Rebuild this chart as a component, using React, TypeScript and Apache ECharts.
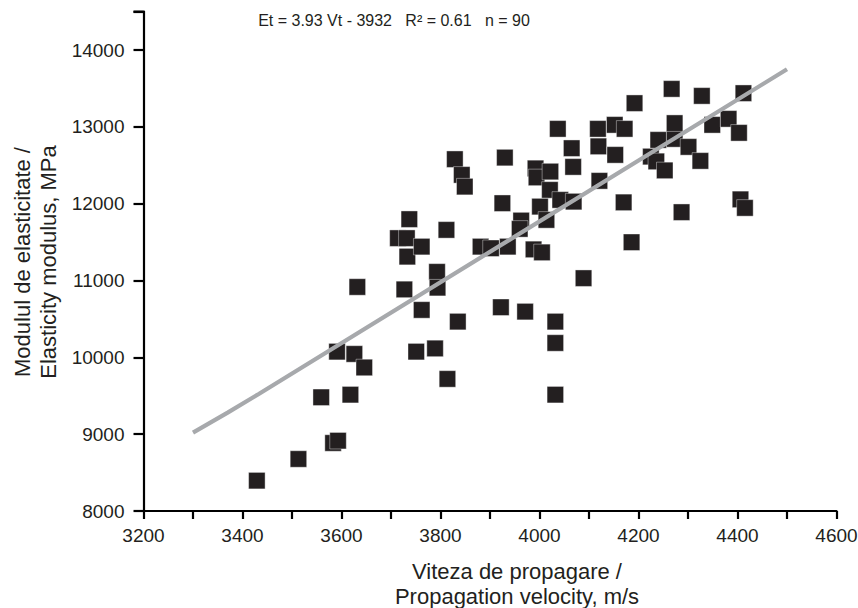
import React, { useEffect, useRef } from "react";
import * as echarts from "echarts";

const xTicks = [3200, 3400, 3600, 3800, 4000, 4200, 4400, 4600];
const yTicks = [8000, 9000, 10000, 11000, 12000, 13000, 14000];
const yAxisTop = 14500;

const velocity = [
  3429, 3513, 3583, 3593, 3559, 3618, 3591, 3626, 3646, 3632,
  3727, 3733, 3714, 3732, 3737, 3751, 3789, 3814, 3762, 3762,
  3793, 3794, 3812, 3829, 3843, 3849, 3835, 3881, 3902, 3936,
  3922, 3971, 4032, 4032, 4032, 3930, 3925, 3963, 3960, 3988,
  4005, 3992, 3994, 4022, 4021, 4001, 4014, 4042, 4069, 4037,
  4065, 4068, 4089, 4118, 4119, 4152, 4172, 4153, 4121, 4170,
  4186, 4192, 4225, 4236, 4240, 4273, 4273, 4267, 4328, 4301,
  4325, 4253, 4287, 4349, 4382, 4403, 4412, 4406, 4415,
];
const modulus = [
  8395, 8677, 8885, 8915, 9480, 9514, 10074, 10044, 9868, 10916,
  10884, 11311, 11551, 11551, 11798, 10074, 10116, 9719, 10617, 11441,
  11112, 10907, 11659, 12579, 12375, 12222, 10465, 11441, 11420, 11441,
  10652, 10595, 10465, 10187, 9514, 12600, 12006, 11780, 11672, 11405,
  11366, 12459, 12342, 12418, 12179, 11962, 11789, 12049, 12027, 12974,
  12722, 12479, 11030, 12974, 12746, 13026, 12974, 12635, 12297, 12017,
  11498, 13308, 12613, 12550, 12830, 12843, 13048, 13494, 13403, 12739,
  12557, 12433, 11889, 13026, 13104, 12922, 13438, 12056, 11945,
];

const fitX = [3300, 3370, 3432, 4500];
const fitY = [9020, 9280, 9520, 13750];

const equationText = "Et = 3.93 Vt - 3932   R² = 0.61   n = 90";
const xTitle = ["Viteza de propagare /", "Propagation velocity, m/s"];
const yTitle = ["Modulul de elasticitate /", "Elasticity modulus, MPa"];

const FONT = "'Liberation Sans', Arial, sans-serif";

export default function App() {
  const ref = useRef<HTMLDivElement>(null);
  useEffect(() => {
    if (!ref.current) return;
    const chart = echarts.init(ref.current, null, { renderer: "svg" });
    const scatterData = velocity.map((v, i) => [v, modulus[i]]);
    const lineData = fitX.map((v, i) => [v, fitY[i]]);
    const baseGraphics: any[] = [
      {
        type: "text",
        x: 394,
        y: 20,
        style: {
          text: equationText,
          fontSize: 16,
          fontFamily: FONT,
          fill: "#231f20",
          textAlign: "center",
          textVerticalAlign: "middle",
        },
      },
      {
        type: "text",
        x: 517,
        y: 584,
        style: {
          text: xTitle.join("\n"),
          fontSize: 22,
          lineHeight: 25,
          fontFamily: FONT,
          fill: "#231f20",
          textAlign: "center",
          textVerticalAlign: "middle",
        },
      },
      {
        type: "text",
        x: 35,
        y: 262,
        rotation: Math.PI / 2,
        style: {
          text: yTitle.join("\n"),
          fontSize: 22,
          lineHeight: 26,
          fontFamily: FONT,
          fill: "#231f20",
          textAlign: "center",
          textVerticalAlign: "middle",
        },
      },
    ];
    chart.setOption({
      animation: false,
      backgroundColor: "#ffffff",
      grid: {
        left: 143.5,
        right: 21.5,
        top: 11.6,
        bottom: 97,
        containLabel: false,
        outerBoundsMode: "none",
      },
      xAxis: {
        type: "value",
        min: 3200,
        max: 4600,
        interval: 100,
        axisLine: { show: true, lineStyle: { color: "#000", width: 2.2 } },
        axisTick: { show: true, length: 8, lineStyle: { color: "#000", width: 2.2 } },
        splitLine: { show: false },
        axisLabel: {
          margin: 15,
          fontSize: 19,
          fontFamily: FONT,
          color: "#231f20",
          formatter: (v: number) => (xTicks.includes(v) ? String(v) : ""),
        },
      },
      yAxis: {
        type: "value",
        min: 8000,
        max: yAxisTop,
        interval: 1000,
        axisLine: { show: true, lineStyle: { color: "#000", width: 2.2 } },
        axisTick: { show: true, length: 10, lineStyle: { color: "#000", width: 2.2 } },
        splitLine: { show: false },
        axisLabel: {
          margin: 19,
          fontSize: 19,
          fontFamily: FONT,
          color: "#231f20",
          formatter: (v: number) => (yTicks.includes(v) ? String(v) : ""),
        },
      },
      graphic: baseGraphics,
      series: [
        {
          type: "line",
          data: lineData,
          symbol: "none",
          lineStyle: { color: "#a7a9ac", width: 4.2 },
          z: 3,
        },
        {
          type: "scatter",
          data: scatterData,
          symbol: "rect",
          symbolSize: 16.5,
          itemStyle: { color: "#231f20", opacity: 1, borderColor: "#ffffff", borderWidth: 0.4 },
          z: 2,
        },
      ],
    });
    // end tick at the top of the y axis
    const topPt = chart.convertToPixel({ gridIndex: 0 }, [3200, yAxisTop]) as number[];
    if (topPt) {
      chart.setOption({
        graphic: [
          ...baseGraphics,
          {
            type: "line",
            shape: { x1: topPt[0] - 10, y1: topPt[1], x2: topPt[0], y2: topPt[1] },
            style: { stroke: "#000", lineWidth: 2.2 },
          },
        ],
      });
    }
    return () => chart.dispose();
  }, []);
  return (
    <div
      ref={ref}
      style={{ position: "fixed", left: 0, top: 0, width: 858, height: 608 }}
    />
  );
}
